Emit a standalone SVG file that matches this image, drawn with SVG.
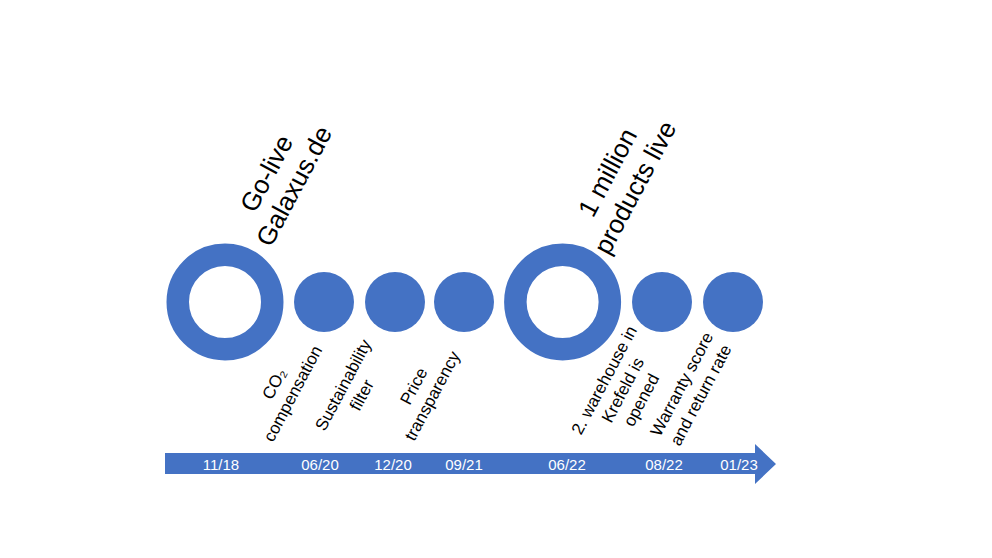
<svg xmlns="http://www.w3.org/2000/svg" width="992" height="558" viewBox="0 0 992 558">
<style>
.ring{fill:none;stroke:#4472C4;stroke-width:22.5}
.dot{fill:#4472C4}
.big{font-family:"Liberation Sans",Arial,sans-serif;font-size:26px;fill:#000;text-anchor:middle}
.lbl{font-family:"Liberation Sans",Arial,sans-serif;font-size:17px;fill:#000;text-anchor:middle}
.date{font-family:"Liberation Sans",Arial,sans-serif;font-size:15px;fill:#fff;text-anchor:middle}
</style>
<rect width="992" height="558" fill="#fff"/>
<g id="connectors">
<path d="M165,453 L755,453 L755,444 L776,464 L755,484 L755,474 L165,474 Z" fill="#4472C4"/>
</g>
<g id="dates">
<text class="date" x="221" y="469.5">11/18</text>
<text class="date" x="320" y="469.5">06/20</text>
<text class="date" x="393" y="469.5">12/20</text>
<text class="date" x="464" y="469.5">09/21</text>
<text class="date" x="567" y="469.5">06/22</text>
<text class="date" x="664" y="469.5">08/22</text>
<text class="date" x="739" y="469.5">01/23</text>
</g>
<g id="n1">
<circle class="ring" cx="225" cy="302" r="47.25"/>
<text class="big" transform="translate(274.4,177.7) rotate(-62)">Go-live</text>
<text class="big" transform="translate(301.9,190.2) rotate(-62)">Galaxus.de</text>
</g>
<g id="n2">
<circle class="dot" cx="324" cy="302" r="30"/>
<text class="lbl" transform="translate(279.3,386.5) rotate(-62)">CO₂</text>
<text class="lbl" transform="translate(297.8,396.3) rotate(-62)">compensation</text>
</g>
<g id="n3">
<circle class="dot" cx="395" cy="302" r="30"/>
<text class="lbl" transform="translate(348.3,387.8) rotate(-62)">Sustainability</text>
<text class="lbl" transform="translate(366.8,397.8) rotate(-62)">filter</text>
</g>
<g id="n4">
<circle class="dot" cx="464" cy="302" r="30"/>
<text class="lbl" transform="translate(418.8,388.8) rotate(-62)">Price</text>
<text class="lbl" transform="translate(437.3,398.6) rotate(-62)">transparency</text>
</g>
<g id="n5">
<circle class="ring" cx="562.6" cy="302" r="47.25"/>
<text class="big" transform="translate(615.4,176.7) rotate(-62)">1 million</text>
<text class="big" transform="translate(642.9,191.7) rotate(-62)">products live</text>
</g>
<g id="n6">
<circle class="dot" cx="662" cy="302" r="30"/>
<text class="lbl" transform="translate(609.3,382.8) rotate(-62)">2. warehouse in</text>
<text class="lbl" transform="translate(627.8,392.8) rotate(-62)">Krefeld is</text>
<text class="lbl" transform="translate(646.3,402.8) rotate(-62)">opened</text>
</g>
<g id="n7">
<circle class="dot" cx="733" cy="302" r="30"/>
<text class="lbl" transform="translate(686.8,386.8) rotate(-62)">Warranty score</text>
<text class="lbl" transform="translate(705.8,397.8) rotate(-62)">and return rate</text>
</g>
</svg>
